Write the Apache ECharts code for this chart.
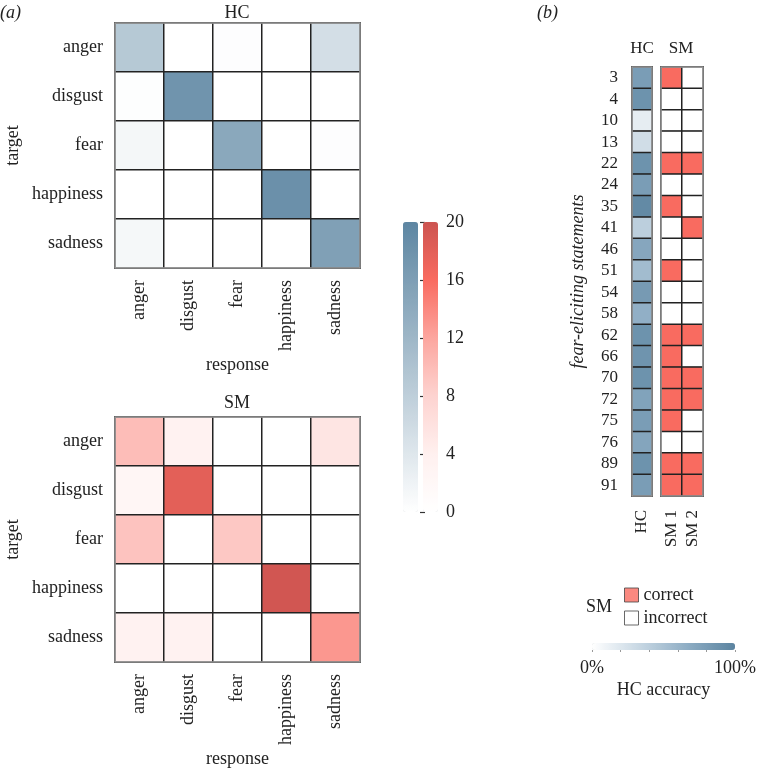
<!DOCTYPE html>
<html><head><meta charset="utf-8">
<script src="https://cdn.jsdelivr.net/npm/echarts@6/dist/echarts.min.js"></script>
<style>html,body{margin:0;padding:0;background:#fff}#c{width:765px;height:770px}</style>
</head><body><div id="c"></div>
<script>
// ---- data ----
const emotions = ['anger', 'disgust', 'fear', 'happiness', 'sadness'];
// rows = target, columns = response (counts)
const hcMatrix = [
  [9.0, 0, 0.3, 0, 5.4],
  [0.2, 17.7, 0, 0, 0],
  [1.4, 0, 14.4, 0, 0.3],
  [0, 0, 0, 18.3, 0],
  [1.2, 0, 0, 0, 15.7]
];
const smMatrix = [
  [10.0, 3.5, 0, 0, 5.5],
  [2.5, 18.0, 0, 0, 0],
  [9.4, 0, 9.0, 0, 0],
  [0, 0, 0, 19.6, 0],
  [3.5, 3.5, 0, 0, 13.0]
];
const countTicks = [0, 4, 8, 12, 16, 20];
const statements = ['3','4','10','13','22','24','35','41','46','51','54','58','62','66','70','72','75','76','89','91'];
const hcAccuracy = [80, 88, 15, 28, 88, 80, 95, 40, 72, 55, 82, 65, 88, 87, 88, 75, 80, 73, 88, 80];
const sm1Correct = [1,0,0,0,1,0,1,0,0,1,0,0,1,1,1,1,1,0,1,1];
const sm2Correct = [0,0,0,0,1,0,0,1,0,0,0,0,1,0,1,1,0,0,1,1];
const smColumns = ['SM 1', 'SM 2'];
const accuracyTicks = [0, 100];

// ---- styles ----
const FONT = '"Liberation Serif", "Times New Roman", "DejaVu Serif", serif';
const TXT = '#222';
const blueScale = ['#ffffff', '#5d86a2'];
const redScale = ['#ffffff', '#fff0ef', '#fdd3d0', '#fca69f', '#f96b60', '#cc5450'];
const accScale = ['#ffffff', '#c7d7e3', '#8eadc4', '#5b84a0'];
const CORRECT = '#f96b60';

function matrixData(m) {
  const out = [];
  m.forEach((row, r) => row.forEach((v, c) => out.push([c, r, v])));
  return out;
}
const hcColData = hcAccuracy.map((v, i) => [0, i, v]);
const smColData = [];
sm1Correct.forEach((v, i) => smColData.push([0, i, v]));
sm2Correct.forEach((v, i) => smColData.push([1, i, v]));

const gridBorder = { show: true, borderColor: '#999', borderWidth: 1.5, backgroundColor: 'transparent', z: 10 };
const tickStyle = { color: '#333', width: 1.2 };

function heatX(gi) {
  return {
    type: 'category', data: emotions, gridIndex: gi,
    axisLine: { show: false },
    axisTick: { alignWithLabel: true, length: 5, lineStyle: tickStyle },
    axisLabel: { interval: 0, rotate: 90, margin: 12, fontSize: 18, color: TXT, fontFamily: FONT },
    name: 'response', nameLocation: 'middle', nameGap: 88,
    nameTextStyle: { fontSize: 18, color: TXT, fontFamily: FONT }
  };
}
function heatY(gi) {
  return {
    type: 'category', data: emotions, gridIndex: gi, inverse: true,
    axisLine: { show: false },
    axisTick: { alignWithLabel: true, length: 5, lineStyle: tickStyle },
    axisLabel: { interval: 0, margin: 12, fontSize: 18, color: TXT, fontFamily: FONT },
    name: 'target', nameLocation: 'middle', nameGap: 93,
    nameTextStyle: { fontSize: 18, color: TXT, fontFamily: FONT }
  };
}
function txt(text, x, y, size, opts) {
  return { type: 'text', x: x, y: y, style: Object.assign({ text: text, fontSize: size, fontFamily: FONT,
    fill: TXT, textAlign: 'center', textVerticalAlign: 'middle' }, opts || {}) };
}

const option = {
  animation: false,
  backgroundColor: '#fff',
  textStyle: { fontFamily: FONT },
  grid: [
    Object.assign({ left: 115, top: 23, width: 245, height: 245 }, gridBorder),
    Object.assign({ left: 115, top: 417, width: 245, height: 245 }, gridBorder),
    { left: 420, top: 222, width: 18, height: 290, show: false },
    Object.assign({ left: 632, top: 67, width: 20, height: 429 }, gridBorder),
    Object.assign({ left: 661, top: 67, width: 42, height: 429 }, gridBorder),
    { left: 592, top: 643, width: 143, height: 7, show: false }
  ],
  xAxis: [
    heatX(0), heatX(1),
    { type: 'value', gridIndex: 2, show: false, min: 0, max: 1 },
    { type: 'category', gridIndex: 3, data: ['HC'],
      axisLine: { show: false },
      axisTick: { alignWithLabel: true, length: 6, lineStyle: tickStyle },
      axisLabel: { interval: 0, rotate: 90, margin: 14, fontSize: 17, color: TXT, fontFamily: FONT } },
    { type: 'category', gridIndex: 4, data: smColumns,
      axisLine: { show: false },
      axisTick: { alignWithLabel: true, length: 6, lineStyle: tickStyle },
      axisLabel: { interval: 0, rotate: 90, margin: 14, fontSize: 17, color: TXT, fontFamily: FONT } },
    { type: 'value', gridIndex: 5, min: 0, max: 100, interval: 20,
      axisLine: { show: false },
      axisTick: { show: true, length: 2, lineStyle: { color: '#999' } },
      splitLine: { show: false },
      axisLabel: { margin: 9, fontSize: 18, color: TXT, fontFamily: FONT, showMinLabel: true, showMaxLabel: true,
        formatter: v => accuracyTicks.includes(v) ? v + '%' : '' },
      name: 'HC accuracy', nameLocation: 'middle', nameGap: 31,
      nameTextStyle: { fontSize: 18, color: TXT, fontFamily: FONT } }
  ],
  yAxis: [
    heatY(0), heatY(1),
    { type: 'value', gridIndex: 2, position: 'right', min: countTicks[0], max: countTicks[countTicks.length - 1], interval: 4,
      axisLine: { show: false }, splitLine: { show: false },
      axisTick: { show: true, length: 5, lineStyle: tickStyle },
      axisLabel: { margin: 8, fontSize: 18, color: TXT, fontFamily: FONT } },
    { type: 'category', gridIndex: 3, data: statements, inverse: true,
      axisLine: { show: false },
      axisTick: { alignWithLabel: true, interval: 0, length: 6, lineStyle: tickStyle },
      axisLabel: { interval: 0, margin: 14, fontSize: 17, color: TXT, fontFamily: FONT },
      name: 'fear-eliciting statements', nameLocation: 'middle', nameGap: 45,
      nameTextStyle: { fontSize: 18, fontStyle: 'italic', color: TXT, fontFamily: FONT } },
    { type: 'category', gridIndex: 4, data: statements, inverse: true,
      axisLine: { show: false },
      axisTick: { alignWithLabel: true, interval: 0, length: 6, lineStyle: tickStyle },
      axisLabel: { show: false, interval: 0 } },
    { type: 'value', gridIndex: 5, show: false, min: 0, max: 1 }
  ],
  visualMap: [
    { type: 'continuous', seriesIndex: 0, min: 0, max: 20, inRange: { color: blueScale },
      calculable: false, hoverLink: false, left: 403, top: 222, itemWidth: 15, itemHeight: 290, padding: 0 },
    { type: 'continuous', seriesIndex: 1, min: 0, max: 20, inRange: { color: redScale },
      calculable: false, hoverLink: false, left: 423, top: 222, itemWidth: 15, itemHeight: 290, padding: 0 },
    { type: 'continuous', seriesIndex: 2, min: 0, max: 100, inRange: { color: accScale }, orient: 'horizontal',
      calculable: false, hoverLink: false, left: 592, top: 643, itemWidth: 7, itemHeight: 143, padding: 0 },
    { type: 'piecewise', seriesIndex: 3, show: false,
      pieces: [{ value: 1, color: CORRECT }, { value: 0, color: '#ffffff' }] }
  ],
  legend: {
    orient: 'vertical', left: 624, top: 586, padding: 0, itemWidth: 14, itemHeight: 14, itemGap: 5,
    selectedMode: false, textStyle: { fontSize: 18, color: TXT, fontFamily: FONT },
    data: [
      { name: 'correct', icon: 'rect', itemStyle: { color: CORRECT, borderColor: '#444', borderWidth: 1 } },
      { name: 'incorrect', icon: 'rect', itemStyle: { color: '#ffffff', borderColor: '#444', borderWidth: 1 } }
    ]
  },
  graphic: [
    txt('(a)', 0, 13, 18, { fontStyle: 'italic', textAlign: 'left' }),
    txt('(b)', 537, 13, 18, { fontStyle: 'italic', textAlign: 'left' }),
    txt('HC', 237, 13, 18),
    txt('SM', 237, 403, 18),
    txt('HC', 642, 49, 17),
    txt('SM', 681, 49, 17),
    txt('SM', 599, 607, 18)
  ],
  series: [
    { type: 'heatmap', xAxisIndex: 0, yAxisIndex: 0, data: matrixData(hcMatrix),
      itemStyle: { borderColor: '#222', borderWidth: 1.5 }, emphasis: { disabled: true } },
    { type: 'heatmap', xAxisIndex: 1, yAxisIndex: 1, data: matrixData(smMatrix),
      itemStyle: { borderColor: '#222', borderWidth: 1.5 }, emphasis: { disabled: true } },
    { type: 'heatmap', xAxisIndex: 3, yAxisIndex: 3, data: hcColData,
      itemStyle: { borderColor: '#222', borderWidth: 1.5 }, emphasis: { disabled: true } },
    { type: 'heatmap', xAxisIndex: 4, yAxisIndex: 4, data: smColData,
      itemStyle: { borderColor: '#222', borderWidth: 1.5 }, emphasis: { disabled: true } },
    { type: 'scatter', name: 'correct', xAxisIndex: 4, yAxisIndex: 4, data: [], itemStyle: { color: CORRECT } },
    { type: 'scatter', name: 'incorrect', xAxisIndex: 4, yAxisIndex: 4, data: [], itemStyle: { color: '#ffffff' } }
  ]
};
const chart = echarts.init(document.getElementById('c'), null, { renderer: 'canvas' });
chart.setOption(option);
</script>
</body></html>
